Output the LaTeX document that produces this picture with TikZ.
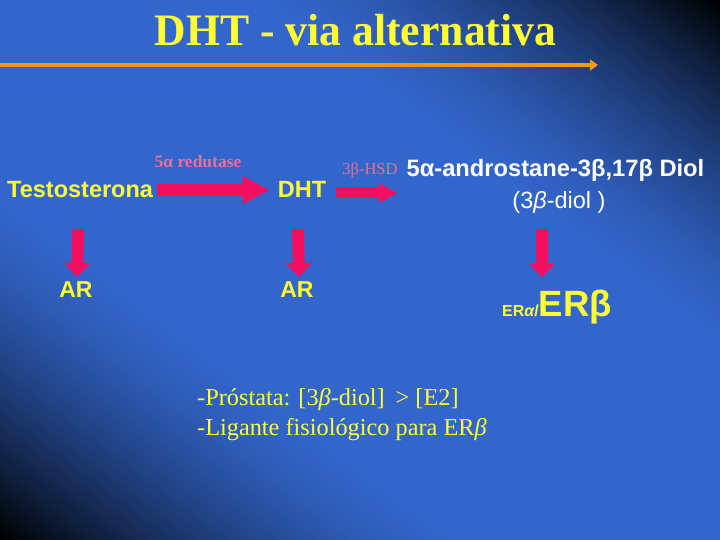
\documentclass[tikz,border=0pt]{standalone}
\usepackage{graphicx}
\usepackage{fontspec}
\setmainfont{Liberation Serif}
\setsansfont{Liberation Sans}
\usetikzlibrary{arrows.meta,calc}
\definecolor{bg}{RGB}{51,102,204}
\definecolor{ylw}{RGB}{255,255,51}
\definecolor{pinklbl}{RGB}{230,112,150}
\definecolor{fatred}{RGB}{245,15,95}
\definecolor{orangeln}{RGB}{245,150,30}
\tikzset{
  lbl/.style={inner sep=0pt, anchor=base},
  sanslbl/.style={lbl, text=ylw, font=\sffamily\bfseries\fontsize{23.5}{28}\selectfont},
  enz/.style={lbl, text=pinklbl},
  fatright/.style={draw=fatred, line width=12pt, -{Triangle[width=26pt,length=27pt]}},
  smallright/.style={draw=fatred, line width=11pt, -{Triangle[width=18pt,length=18pt]}},
  fatdown/.style={draw=fatred, line width=12pt, -{Triangle[width=26pt,length=14pt]}},
}
\begin{document}
\begin{tikzpicture}[x=1pt,y=-1pt]
\useasboundingbox (0,0) rectangle (720,540);
% background
\fill[bg] (0,0) rectangle (720,540);
\begin{scope}
\clip (0,0) rectangle (720,540);
\begin{scope}[rotate=-36.8699]
\foreach \i in {0,...,73} {
  \pgfmathsetmacro\va{150+\i*4}
  \pgfmathsetmacro\vb{\va+4.6}
  \pgfmathsetmacro\s{min(1,(\i*4+2)/282)}
  \pgfmathsetmacro\pc{max(0,100*(1-\s^1.5))}
  \fill[bg!\pc!black] (-60,-\va) rectangle (960,-\vb);
  \fill[bg!\pc!black] (-60,\va) rectangle (960,\vb);
}
\end{scope}
\end{scope}
% title
\node[lbl, text=ylw, font=\bfseries\fontsize{45}{50}\selectfont] (title) at (355.5,46) {\scalebox{0.97}[1]{DHT - via alternativa}};
\coordinate (ruleL) at (0,65);
\coordinate (ruleR) at (598,65);
\draw[orangeln, line width=4pt, -{Triangle[width=11pt,length=8pt]}] (ruleL) -- (ruleR);
% nodes
\node[sanslbl, anchor=base west] (testo) at (7,197) {Testosterona};
\node[sanslbl] (dht) at (302,197) {DHT};
\node[enz, font=\bfseries\fontsize{17.5}{20}\selectfont] (red5) at (198,168) {5α redutase};
\node[enz, font=\fontsize{16.5}{18}\selectfont] (hsd) at (370,175) {3β-HSD};
\node[lbl, text=white, font=\sffamily\bfseries\fontsize{23.7}{26}\selectfont] (diol) at (555.5,177) {5α-androstane-3β,17β Diol};
\node[lbl, text=white, font=\sffamily\fontsize{23.5}{26}\selectfont] (diol2) at (559,208) {(3{\itshape β}-diol )};
\node[sanslbl, font=\sffamily\bfseries\fontsize{23}{26}\selectfont] (arL) at (76,297) {AR};
\node[sanslbl, font=\sffamily\bfseries\fontsize{23}{26}\selectfont] (arD) at (297,297) {AR};
\node[lbl, anchor=base west, text=ylw, font=\sffamily\bfseries] (er) at (502,316) {{\fontsize{16}{18}\selectfont ER{\itshape α}/}{\fontsize{36.5}{38}\selectfont ERβ}};
\node[lbl, anchor=base west, text=ylw, font=\fontsize{24.3}{28}\selectfont] (note1) at (197,405) {-Próstata: [3{\itshape β}-diol]\hspace{0.45em}> [E2]};
\node[lbl, anchor=base west, text=ylw, font=\fontsize{24.3}{28}\selectfont] (note2) at (197,435) {-Ligante fisiológico para ER{\itshape β}};
% connectors
\draw[fatright] ($(testo.base east)+(4,-7)$) -- ($(dht.base west)+(-8,-7)$);
\draw[smallright] ($(dht.base east)+(10,-4)$) -- ($(diol.base west)+(-9,16)$);
\draw[fatdown] ($(testo.base west)+(71,32)$) -- ($(arL.north)+(1,-4)$);
\draw[fatdown] ($(dht.base)+(-4,32)$) -- ($(arD.north)+(2,-4)$);
\draw[fatdown] ($(diol2.base)+(-17,21)$) -- ($(er.north west)+(40,-12)$);
\end{tikzpicture}
\end{document}
